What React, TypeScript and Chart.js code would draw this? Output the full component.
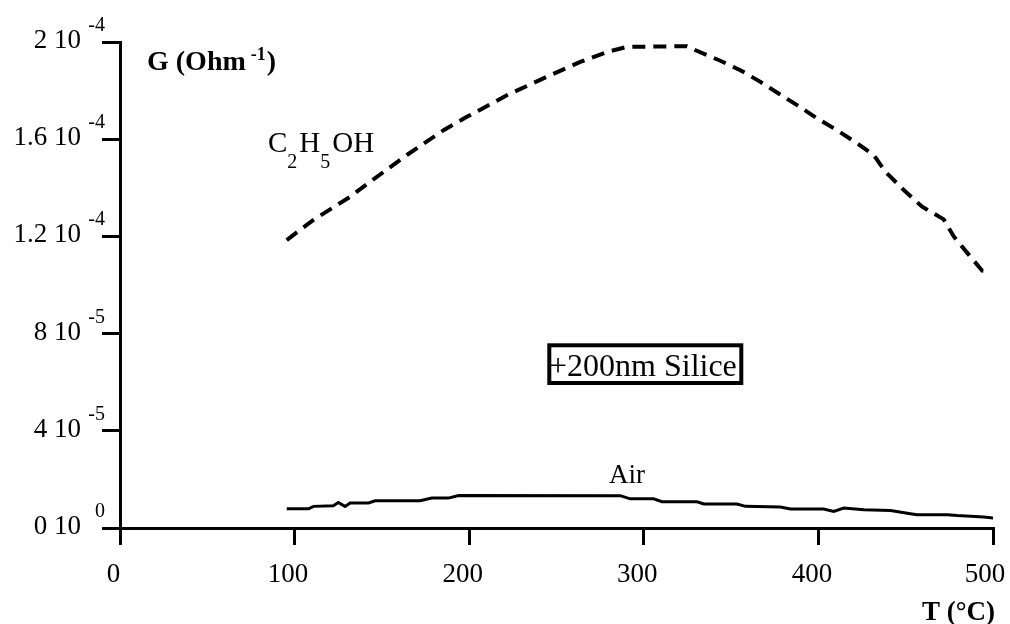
import React, { useEffect, useRef } from "react";
import { Chart, registerables } from "chart.js";

Chart.register(...registerables);

// ---- data (T in °C, G in Ohm^-1) ----
const ethanolT = [95.5, 110.8, 131.8, 143.3, 164.3, 185.3, 198.7, 221.6, 244.5, 263.6, 278.9, 290.4, 324.7, 330.0, 343.8, 355.3, 366.8, 377.2, 387.8, 399.2, 410.7, 422.2, 431.7, 438.4, 448.9, 459.4, 471.8, 477.6, 486.2, 493.8, 498.6];
const ethanolG = [1.185e-4, 1.268e-4, 1.363e-4, 1.425e-4, 1.535e-4, 1.637e-4, 1.692e-4, 1.781e-4, 1.857e-4, 1.918e-4, 1.959e-4, 1.98e-4, 1.983e-4, 1.965e-4, 1.923e-4, 1.884e-4, 1.836e-4, 1.788e-4, 1.74e-4, 1.686e-4, 1.637e-4, 1.583e-4, 1.535e-4, 1.466e-4, 1.391e-4, 1.322e-4, 1.27e-4, 1.199e-4, 1.124e-4, 1.059e-4, 1.055e-4];

const airT = [95.5, 108, 110.8, 122.2, 125, 128.9, 131.8, 142.3, 146.1, 171.9, 178.6, 188.1, 193.9, 286.5, 292.3, 305.6, 310.4, 330.5, 334.4, 353.4, 358.2, 378.2, 384, 403, 408.8, 414.5, 426, 441.3, 452.7, 456.6, 473.8, 479.5, 494.7, 500.4];
const airG = [0.79e-5, 0.79e-5, 0.89e-5, 0.92e-5, 1.05e-5, 0.89e-5, 1.03e-5, 1.03e-5, 1.12e-5, 1.12e-5, 1.23e-5, 1.23e-5, 1.34e-5, 1.33e-5, 1.2e-5, 1.2e-5, 1.08e-5, 1.08e-5, 0.99e-5, 0.99e-5, 0.89e-5, 0.86e-5, 0.78e-5, 0.78e-5, 0.68e-5, 0.82e-5, 0.75e-5, 0.72e-5, 0.59e-5, 0.55e-5, 0.55e-5, 0.51e-5, 0.45e-5, 0.41e-5];

const xTickValues = [0, 100, 200, 300, 400, 500];
const xTickLabels = ["0", "100", "200", "300", "400", "500"];
const yTickValues = [0, 4e-5, 8e-5, 1.2e-4, 1.6e-4, 2e-4];
const yTickMantissa = ["0", "4", "8", "1.2", "1.6", "2"];
const yTickExponent = ["0", "-5", "-5", "-4", "-4", "-4"];

const SERIF = "'Liberation Serif', 'Times New Roman', serif";

const textPlugin = {
  id: "textPlugin",
  afterDraw(chart: any) {
    const ctx: CanvasRenderingContext2D = chart.ctx;
    const xs = chart.scales.x;
    const ys = chart.scales.y;
    ctx.save();
    ctx.fillStyle = "#000";
    ctx.textBaseline = "alphabetic";

    // x tick labels
    ctx.font = `27px ${SERIF}`;
    ctx.textAlign = "center";
    xTickValues.forEach((v, i) => {
      const off = i === xTickValues.length - 1 ? 8 : 6.5;
      ctx.fillText(xTickLabels[i], xs.getPixelForValue(v) - off, 582);
    });

    // y tick labels with superscript exponent
    yTickValues.forEach((v, i) => {
      const py = ys.getPixelForValue(v);
      ctx.font = `27px ${SERIF}`;
      ctx.textAlign = "right";
      ctx.fillText(yTickMantissa[i] + " 10", 81, py + 6);
      ctx.font = `20px ${SERIF}`;
      ctx.fillText(yTickExponent[i], 105, py - 11);
    });

    // y axis title
    ctx.textAlign = "left";
    ctx.font = `bold 28px ${SERIF}`;
    const g1 = "G (Ohm";
    ctx.fillText(g1, 147, 70);
    let gx = 147 + ctx.measureText(g1).width + 5;
    ctx.font = `bold 18px ${SERIF}`;
    ctx.fillText("-1", gx, 60);
    gx += ctx.measureText("-1").width + 1;
    ctx.font = `bold 28px ${SERIF}`;
    ctx.fillText(")", gx, 70);

    // x axis title
    ctx.textAlign = "right";
    ctx.font = `bold 27px ${SERIF}`;
    ctx.fillText("T (°C)", 995, 620);

    // C2H5OH label
    ctx.textAlign = "left";
    const parts: [string, boolean][] = [["C", false], ["2", true], ["H", false], ["5", true], ["OH", false]];
    let cx = 268;
    parts.forEach(([t, sub]) => {
      ctx.font = sub ? `20px ${SERIF}` : `29px ${SERIF}`;
      ctx.fillText(t, cx, sub ? 168 : 152);
      cx += ctx.measureText(t).width + (sub ? 2 : 0);
    });

    // Air label
    ctx.font = `27px ${SERIF}`;
    ctx.fillText("Air", 609, 483);

    // boxed label
    ctx.lineWidth = 4;
    ctx.strokeStyle = "#000";
    ctx.strokeRect(549.3, 345.3, 192, 37.7);
    ctx.font = `32px ${SERIF}`;
    ctx.fillText("+200nm Silice", 549, 376);

    ctx.restore();
  },
};

export default function App() {
  const ref = useRef<HTMLCanvasElement | null>(null);

  useEffect(() => {
    if (!ref.current) return;
    const chart = new Chart(ref.current, {
      type: "line",
      data: {
        datasets: [
          {
            label: "C2H5OH",
            data: ethanolT.map((t, i) => ({ x: t, y: ethanolG[i] })),
            borderColor: "#000",
            borderWidth: 4,
            borderDash: [13, 8],
            pointRadius: 0,
            tension: 0,
            fill: false,
          },
          {
            label: "Air",
            data: airT.map((t, i) => ({ x: t, y: airG[i] })),
            borderColor: "#000",
            borderWidth: 3,
            pointRadius: 0,
            tension: 0,
            fill: false,
          },
        ],
      },
      options: {
        animation: false,
        responsive: false,
        devicePixelRatio: 1,
        layout: { padding: { top: 42, right: 17, left: 0, bottom: 0 } },
        plugins: { legend: { display: false }, tooltip: { enabled: false } },
        scales: {
          x: {
            type: "linear",
            min: 0,
            max: 500,
            afterFit: (s: any) => {
              s.height = 96;
            },
            afterBuildTicks: (s: any) => {
              s.ticks = xTickValues.map((v) => ({ value: v }));
            },
            ticks: { display: false },
            grid: { drawOnChartArea: false, drawTicks: true, tickLength: 17, color: "#000", lineWidth: 3 },
            border: { display: true, color: "#000", width: 3 },
          },
          y: {
            type: "linear",
            min: 0,
            max: 2e-4,
            afterFit: (s: any) => {
              s.width = 120;
            },
            afterBuildTicks: (s: any) => {
              s.ticks = yTickValues.map((v) => ({ value: v }));
            },
            ticks: { display: false },
            grid: { drawOnChartArea: false, drawTicks: true, tickLength: 18, color: "#000", lineWidth: 3 },
            border: { display: true, color: "#000", width: 3 },
          },
        },
      },
      plugins: [textPlugin],
    } as any);
    return () => chart.destroy();
  }, []);

  return (
    <div style={{ position: "absolute", left: 0, top: 0, width: 1010, height: 624, background: "#fff" }}>
      <canvas ref={ref} width={1010} height={624} style={{ display: "block" }} />
    </div>
  );
}
